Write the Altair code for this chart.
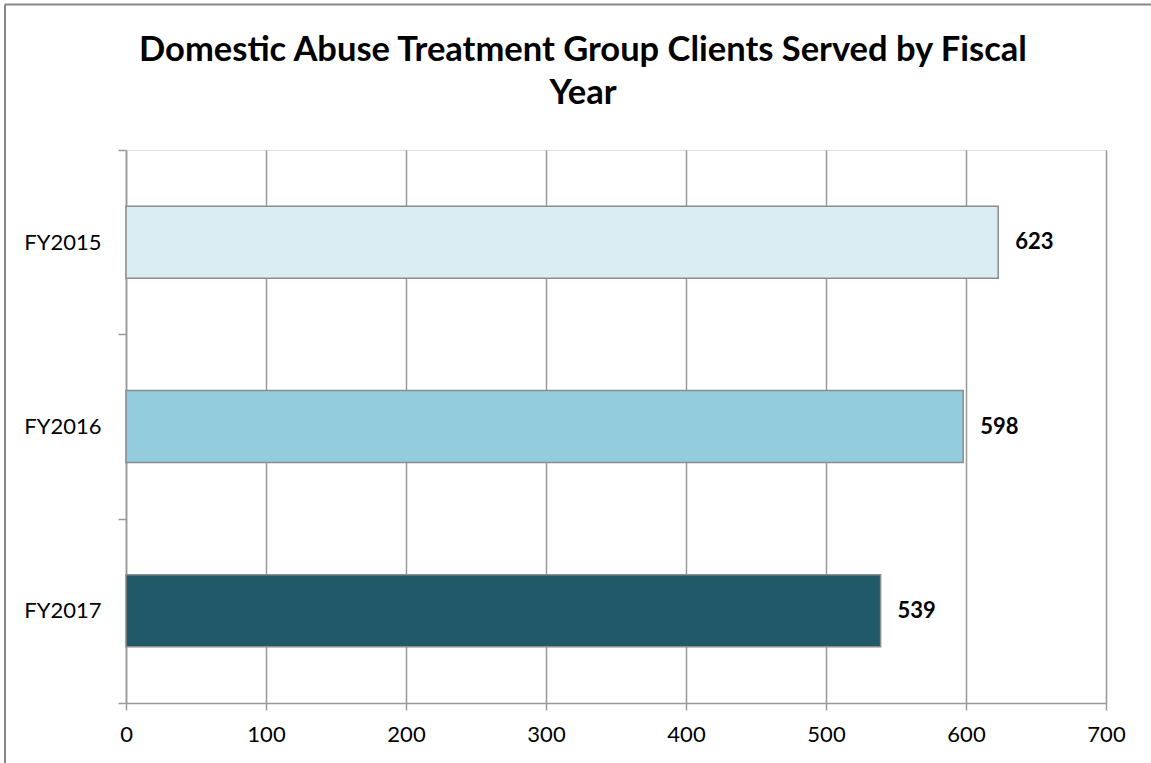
import altair as alt
import pandas as pd

years = ["FY2015", "FY2016", "FY2017"]
clients = [623, 598, 539]
colors = ["#DAEDF3", "#93CDDD", "#215968"]
x_ticks = [0, 100, 200, 300, 400, 500, 600, 700]
title_lines = ["Domestic Abuse Treatment Group Clients Served by Fiscal", "Year"]

df = pd.DataFrame({"year": years, "clients": clients})
one = pd.DataFrame({"k": [0]})

FONT = "Lato"

y_enc = alt.Y("year:N", sort=years, title=None,
              scale=alt.Scale(paddingInner=0, paddingOuter=0),
              axis=alt.Axis(tickBand="extent", tickSize=8, tickColor="#999999",
                            tickWidth=1.5, domainColor="#999999", domainWidth=1.5,
                            labelFont=FONT, labelFontSize=22, labelColor="#000000",
                            labelPadding=17, grid=False))
x_enc = alt.X("clients:Q", title=None,
              scale=alt.Scale(domain=[0, 700], nice=False),
              axis=alt.Axis(values=x_ticks, tickSize=7, tickColor="#999999",
                            tickWidth=1.5, domainColor="#999999", domainWidth=1.5,
                            grid=True, gridColor="#999999", gridWidth=1.5,
                            labelFlush=False,
                            labelFont=FONT, labelFontSize=22, labelColor="#000000",
                            labelPadding=14))

bars = alt.Chart(df).mark_bar(size=72, stroke="#8C8C8C", strokeWidth=1.5).encode(
    y=y_enc, x=x_enc,
    color=alt.Color("year:N", scale=alt.Scale(domain=years, range=colors), legend=None),
)

labels = alt.Chart(df).mark_text(align="left", baseline="middle", dx=17, font=FONT,
                                 fontSize=22, fontWeight="bold", color="#000000").encode(
    y=alt.Y("year:N", sort=years), x="clients:Q", text="clients:Q"
)

title1 = alt.Chart(one).mark_text(align="center", baseline="alphabetic", font=FONT,
                                  fontSize=34.5, fontWeight="bold", color="#000000",
                                  clip=False).encode(
    x=alt.value(457), y=alt.value(-89), text=alt.value(title_lines[0])
)
title2 = alt.Chart(one).mark_text(align="center", baseline="alphabetic", font=FONT,
                                  fontSize=34.5, fontWeight="bold", color="#000000",
                                  clip=False).encode(
    x=alt.value(457), y=alt.value(-46), text=alt.value(title_lines[1])
)

border_top = alt.Chart(one).mark_rule(color="#888888", strokeWidth=2, clip=False).encode(
    x=alt.value(-121), x2=alt.value(1100), y=alt.value(-145.5)
)
border_left = alt.Chart(one).mark_rule(color="#888888", strokeWidth=2, clip=False).encode(
    x=alt.value(-121), y=alt.value(-145.5), y2=alt.value(800)
)

chart = alt.layer(bars, labels, title1, title2, border_top, border_left).properties(
    width=980, height=553,
    padding={"left": 126, "top": 150, "right": 45, "bottom": 60},
    autosize=alt.AutoSizeParams(type="none"),
).configure_view(stroke=None).configure(background="white")

chart.save("out.html", embed_options={"renderer": "svg", "actions": False})
